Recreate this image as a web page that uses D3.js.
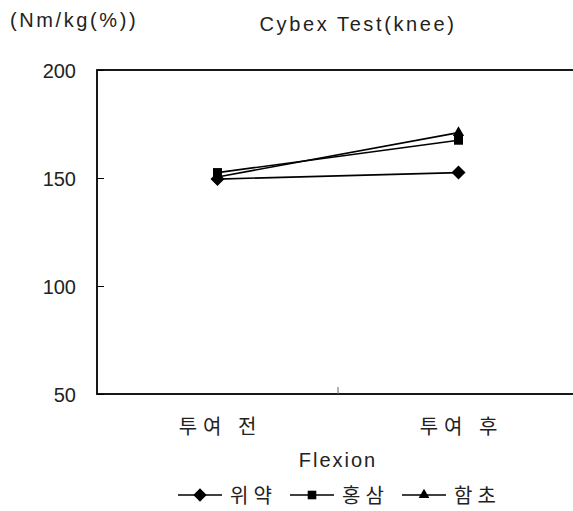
<!DOCTYPE html>
<html>
<head>
<meta charset="utf-8">
<script src="https://cdn.jsdelivr.net/npm/d3@7"></script>
<style>
  html, body { margin: 0; padding: 0; background: #fff; }
  svg { display: block; }
  .lat { font-family: "Liberation Sans", Arial, sans-serif; fill: #222; }
  .kor { font-family: "Noto Sans CJK KR", sans-serif; fill: #222; }
</style>
</head>
<body>
<script>
// Cybex knee flexion test, before / after administration
const categories = ["투여 전", "투여 후"];
const seriesNames = ["위약", "홍삼", "함초"];
const placebo = [149.5, 152.5];
const redGinseng = [152.5, 167.5];
const hamcho = [150.5, 171];
const yTicks = [50, 100, 150, 200];
const markerTypes = ["diamond", "square", "triangle"];

const W = 573, H = 511;
const margin = { left: 97, top: 70, right: 579, bottom: 394 };

const svg = d3.select("body").append("svg")
  .attr("width", W).attr("height", H);

const x = d3.scaleBand().domain(categories).range([margin.left, margin.right]);
const y = d3.scaleLinear().domain([50, 200]).range([margin.bottom, margin.top]);

// Plot frame
svg.append("rect")
  .attr("x", margin.left).attr("y", margin.top)
  .attr("width", margin.right - margin.left)
  .attr("height", margin.bottom - margin.top)
  .attr("fill", "none").attr("stroke", "#000").attr("stroke-width", 1.8);

// Y axis (ticks inward)
const yAxis = d3.axisLeft(y).tickValues(yTicks).tickSize(-7).tickPadding(21);
const gy = svg.append("g").attr("transform", `translate(${margin.left},0)`).call(yAxis);
gy.select(".domain").remove();
gy.selectAll(".tick line").attr("stroke", "#000");
gy.selectAll(".tick text").attr("class", "lat").style("font-size", "20px")
  .attr("text-anchor", "end").attr("x", -21).attr("dy", "0.36em");

// X axis: category boundary tick pointing up
const boundaries = categories.slice(1).map(c => x(c));
svg.selectAll(".xtick").data(boundaries).enter().append("line")
  .attr("x1", d => d).attr("x2", d => d)
  .attr("y1", margin.bottom).attr("y2", margin.bottom - 7)
  .attr("stroke", "#666");

svg.selectAll(".xlab").data(categories).enter().append("text")
  .attr("class", "kor")
  .attr("x", d => x(d) + x.bandwidth() / 2 + 3)
  .attr("y", 434)
  .attr("text-anchor", "middle")
  .style("font-size", "20px")
  .style("letter-spacing", "6px")
  .text(d => d);

// Titles
svg.append("text").attr("class", "lat").attr("x", 10).attr("y", 27)
  .style("font-size", "20px").style("letter-spacing", "2.6px").text("(Nm/kg(%))");
svg.append("text").attr("class", "lat").attr("x", 358).attr("y", 31)
  .attr("text-anchor", "middle").style("font-size", "20px")
  .style("letter-spacing", "2.6px").text("Cybex Test(knee)");
svg.append("text").attr("class", "lat").attr("x", 338).attr("y", 467)
  .attr("text-anchor", "middle").style("font-size", "20px")
  .style("letter-spacing", "2px").text("Flexion");

// Marker symbols
function markerPath(type, scale) {
  const s = scale || 1;
  if (type === "diamond") return d3.symbol().type(d3.symbolDiamond2).size(125 * s)();
  if (type === "square") return d3.symbol().type(d3.symbolSquare).size(82 * s)();
  return d3.symbol().type(d3.symbolTriangle).size(55 * s)();
}

const series = [placebo, redGinseng, hamcho];
const line = d3.line()
  .x((d, i) => x(categories[i]) + x.bandwidth() / 2)
  .y(d => y(d));

// Lines first, then markers (diamond drawn last so it sits on top)
const drawOrder = [2, 1, 0];
drawOrder.forEach(si => {
  svg.append("path").datum(series[si])
    .attr("d", line).attr("fill", "none")
    .attr("stroke", "#000").attr("stroke-width", 1.6);
});
drawOrder.forEach(si => {
  svg.selectAll(null).data(series[si]).enter().append("path")
    .attr("d", markerPath(markerTypes[si]))
    .attr("transform", (d, i) => `translate(${x(categories[i]) + x.bandwidth() / 2},${y(d)})`)
    .attr("fill", "#000");
});

// Legend
const legendX = [178, 290, 402];
const legendY = 495;
seriesNames.forEach((name, i) => {
  const g = svg.append("g").attr("transform", `translate(${legendX[i]},${legendY})`);
  g.append("line").attr("x1", 0).attr("x2", 44).attr("y1", 0).attr("y2", 0)
    .attr("stroke", "#000").attr("stroke-width", 1.4);
  g.append("path").attr("d", markerPath(markerTypes[i], 0.9))
    .attr("transform", "translate(22,0)").attr("fill", "#000");
  g.append("text").attr("class", "kor").attr("x", 52).attr("y", 8)
    .style("font-size", "20px").style("letter-spacing", "5px").text(name);
});
</script>
</body>
</html>
